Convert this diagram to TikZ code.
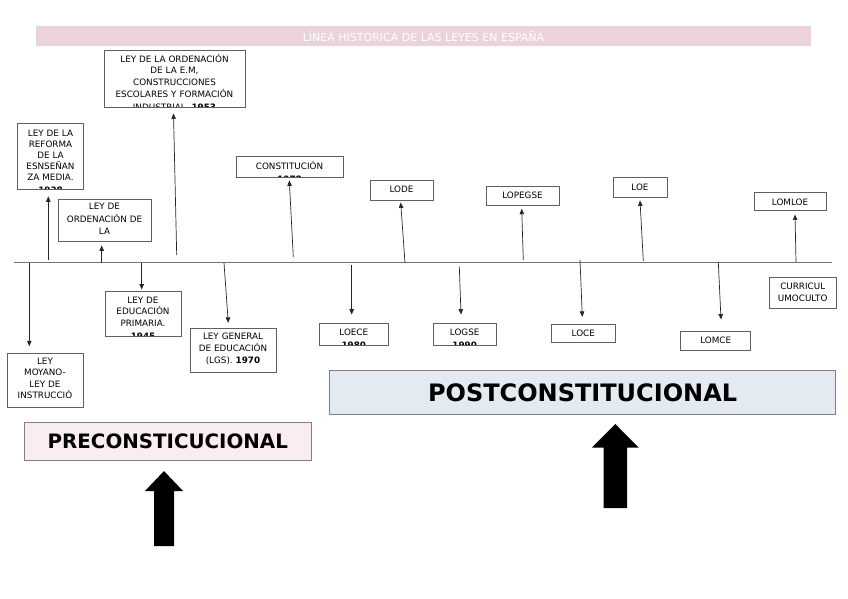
\documentclass[tikz,border=0pt]{standalone}
\usepackage{fontspec}
\setmainfont{DejaVu Sans}
\usetikzlibrary{arrows.meta}
\definecolor{titlefill}{HTML}{EBD3DB}
\definecolor{prefill}{HTML}{F9EDF0}
\definecolor{postfill}{HTML}{E4EAF2}
\definecolor{boxline}{HTML}{606060}
% #1 name, #2 cx, #3 cy, #4 width, #5 height, #6 first baseline below top, #7 line skip, #8 text
\newcommand\lawbox[8]{%
  \node[lbox, minimum width=#4pt, minimum height=#5pt,
    path picture={\node[anchor=base, inner sep=0pt, text width=#4pt, align=center,
        font=\fontsize{8.8}{#7}\selectfont]
        at ([yshift=-#6pt]path picture bounding box.north) {#8};}]
    (#1) at (#2,#3) {};}
\begin{document}
\begin{tikzpicture}[x=1pt,y=-1pt,
  lbox/.style={draw=boxline, line width=0.9pt, fill=white, rectangle, inner sep=0pt},
  arr/.style={draw=black!85, line width=0.7pt, -{Triangle[length=5.5pt,width=4.5pt]}},
  timeline/.style={draw=black!55, line width=1.1pt},
  bigbox/.style={draw=black!50, line width=0.8pt, rectangle, inner sep=0pt},
  bigarrow/.style={fill=black}]
\useasboundingbox (0,0) rectangle (848,599);

% title
\node[fill=titlefill, minimum width=775pt, minimum height=20pt, inner sep=0pt,
  text=white, font=\fontsize{11}{12}\selectfont] (title) at (423.5,36) {LÍNEA HISTÓRICA DE LAS LEYES EN ESPAÑA};

% timeline
\coordinate (tlA) at (14,262.5);
\coordinate (tlB) at (832,262.5);
\draw[timeline] (tlA) -- (tlB);

% boxes above
\lawbox{ordEM}{174.5}{78.7}{141}{57.3}{12.1}{11.65}{LEY DE LA ORDENACIÓN\\DE LA E.M,\\CONSTRUCCIONES\\ESCOLARES Y FORMACIÓN\\[1.5pt]INDUSTRIAL. \textbf{1953}}
\lawbox{reforma}{50.5}{156.3}{66}{65.3}{12.4}{11.1}{LEY DE LA\\REFORMA\\DE LA\\ESNSEÑAN\\ZA MEDIA.\\[2pt]\textbf{1938}}
\lawbox{ordLa}{104.5}{220.3}{93}{42.7}{10.7}{12.4}{LEY DE\\ORDENACIÓN DE\\LA}
\lawbox{const}{289.5}{167}{107}{20.6}{12.3}{10.8}{CONSTITUCIÓN\\[2.5pt]\textbf{1978}}
\lawbox{lode}{401.5}{190}{63}{20}{12}{11.6}{LODE}
\lawbox{lopegse}{522.5}{196.2}{73}{19}{11.5}{11.6}{LOPEGSE}
\lawbox{loe}{640}{187.5}{54}{19.6}{12.7}{11.6}{LOE}
\lawbox{lomloe}{790}{201.7}{72}{18}{12.7}{11.6}{LOMLOE}

% boxes below
\lawbox{moyano}{45}{380.5}{76}{54.4}{11.1}{11.3}{LEY\\MOYANO-\\LEY DE\\INSTRUCCIÓ}
\lawbox{primaria}{143}{314.2}{76}{45}{12}{11.2}{LEY DE\\EDUCACIÓN\\PRIMARIA.\\[2.5pt]\textbf{1945}}
\lawbox{lge}{233}{350.3}{86}{44}{11.4}{11.7}{LEY GENERAL\\DE EDUCACIÓN\\(LGS). \textbf{1970}}
\lawbox{loece}{353.8}{334.2}{69}{21.7}{12.1}{11}{LOECE\\[2.5pt]\textbf{1980}}
\lawbox{logse}{464.7}{334.5}{62.7}{22.4}{12.1}{11}{LOGSE\\[2.5pt]\textbf{1990}}
\lawbox{loce}{583.3}{333.3}{63.3}{18}{11.8}{11.6}{LOCE}
\lawbox{lomce}{715.7}{340.5}{70}{19}{12.1}{11.6}{LOMCE}
\lawbox{curr}{802.7}{293}{66.7}{30.6}{12}{11.7}{CURRICUL\\UMOCULTO}

% arrow starts on the timeline
\coordinate (s1) at (176.7,255);
\coordinate (s2) at (48.3,260);
\coordinate (s3) at (101.7,262.5);
\coordinate (s4) at (293.3,257);
\coordinate (s5) at (405,263);
\coordinate (s6) at (523.3,260);
\coordinate (s7) at (643.3,261);
\coordinate (s8) at (796,262);
\coordinate (s9) at (29.3,263);
\coordinate (s10) at (141.7,263);
\coordinate (s11) at (224,263);
\coordinate (s12) at (351.7,265);
\coordinate (s13) at (459.3,266.5);
\coordinate (s14) at (580,260);
\coordinate (s15) at (718.3,262);

\draw[arr] (s1) -- ([xshift=-1pt,yshift=-5.7pt]ordEM.south);
\draw[arr] (s2) -- ([xshift=-2.2pt,yshift=-7pt]reforma.south);
\draw[arr] (s3) -- ([xshift=-2.8pt,yshift=-3.3pt]ordLa.south);
\draw[arr] (s4) -- ([xshift=-0.2pt,yshift=-2.7pt]const.south);
\draw[arr] (s5) -- ([xshift=-0.8pt,yshift=-2pt]lode.south);
\draw[arr] (s6) -- ([xshift=-0.8pt,yshift=-2.6pt]lopegse.south);
\draw[arr] (s7) -- ([yshift=-2.7pt]loe.south);
\draw[arr] (s8) -- ([xshift=5pt,yshift=-3.3pt]lomloe.south);
\draw[arr] (s9) -- ([xshift=-15.7pt,yshift=6.6pt]moyano.north);
\draw[arr] (s10) -- ([xshift=-1.3pt,yshift=1.7pt]primaria.north);
\draw[arr] (s11) -- ([xshift=-4.7pt,yshift=5pt]lge.north);
\draw[arr] (s12) -- ([xshift=-2.1pt,yshift=8.3pt]loece.north);
\draw[arr] (s13) -- ([xshift=-3.7pt,yshift=8.3pt]logse.north);
\draw[arr] (s14) -- ([xshift=-1pt,yshift=7pt]loce.north);
\draw[arr] (s15) -- ([xshift=5.3pt,yshift=11pt]lomce.north);

% period boxes
\node[bigbox, fill=prefill, minimum width=287.7pt, minimum height=37.3pt,
  font=\fontsize{19.8}{22}\selectfont\bfseries] (pre) at (167.8,441.3) {PRECONSTICUCIONAL};
\node[bigbox, fill=postfill, minimum width=506.4pt, minimum height=43.7pt,
  font=\fontsize{24}{26}\selectfont\bfseries] (post) at (582.6,392.7) {POSTCONSTITUCIONAL};

% big arrows
\fill[bigarrow] (154,546) -- (154,491) -- (145,491) -- (164,471) -- (183,491) -- (174,491) -- (174,546) -- cycle;
\fill[bigarrow] (603.5,508) -- (603.5,447.5) -- (592,447.5) -- (615.3,424) -- (638.5,447.5) -- (627,447.5) -- (627,508) -- cycle;
\end{tikzpicture}
\end{document}
